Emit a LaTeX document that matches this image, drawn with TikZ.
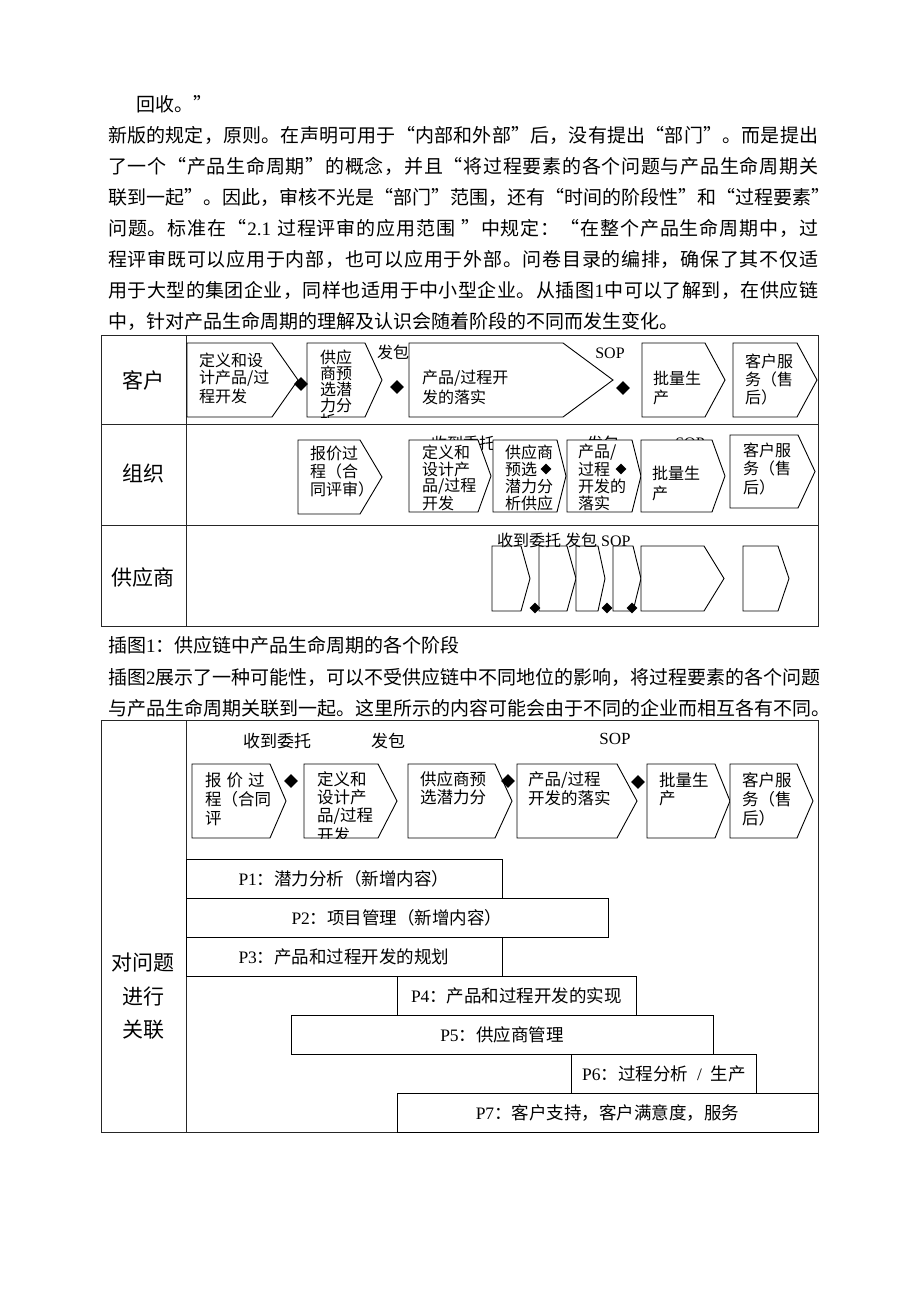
\documentclass[tikz,border=0pt]{standalone}
\usepackage{fontspec}
\setmainfont{Noto Sans CJK SC}
\newfontfamily\lat{Liberation Serif}
\usetikzlibrary{shapes.geometric}
\makeatletter
\def\sprd#1{\sprd@#1\sprd@end}
\def\sprd@end{\sprd@end}
\def\sprd@endd{\sprd@end}
\def\sprd@#1{\def\sprd@arg{#1}\ifx\sprd@arg\sprd@endd\unskip\else#1\hskip 0pt plus 1fil\expandafter\sprd@\fi}
\makeatother
\newcommand\jline[1]{\hbox to 710pt{\sprd{#1}}}
\newcommand\chevp[5]{(#1,#2) -- (#3,#2) -- (#4,{(#2+#5)/2}) -- (#3,#5) -- (#1,#5) -- cycle}
\newcommand\mylines[6]{\foreach \mytxt [count=\myi] in {#6} {\node[#1] (#2-\myi) at (#3,{#4+(\myi-1)*#5}) {\mytxt};}}
\tikzset{
 tbl/.style={draw=black!85, line width=0.9pt},
 shp/.style={draw=black, fill=white, line width=0.9pt, line join=miter},
 dia/.style={diamond, fill=black, inner sep=0pt, minimum size=14pt},
 sdia/.style={diamond, fill=black, inner sep=0pt, minimum size=11pt},
 para/.style={anchor=west, inner sep=0pt, font=\fontsize{19}{19}\selectfont},
 rowlab/.style={inner sep=0pt, font=\fontsize{21}{21}\selectfont},
 stxt/.style={anchor=west, inner sep=0pt, font=\fontsize{16}{16}\selectfont},
 stxtb/.style={anchor=west, inner sep=0pt, font=\fontsize{16.5}{16.5}\selectfont},
 milab/.style={inner sep=0pt, font=\fontsize{16}{16}\selectfont},
 milabb/.style={inner sep=0pt, font=\fontsize{17}{17}\selectfont},
 pbar/.style={draw=black, line width=0.9pt, fill=white, inner sep=0pt, minimum height=39pt, font=\fontsize{17.5}{17.5}\selectfont},
}
\begin{document}
\begin{tikzpicture}[x=1pt,y=-1pt]
\fill[white] (0,0) rectangle (920,1302);
\useasboundingbox (0,0) rectangle (920,1302);

% ---------- paragraph ----------
\node[para] (t0) at (136,104) {回收。”};
\node[para] (t1) at (108,135) {\jline{新版的规定，原则。在声明可用于“内部和外部”后，没有提出“部门”。而是提出}};
\node[para] (t2) at (108,166) {\jline{了一个“产品生命周期”的概念，并且“将过程要素的各个问题与产品生命周期关}};
\node[para] (t3) at (108,197) {\jline{联到一起”。因此，审核不光是“部门”范围，还有“时间的阶段性”和“过程要素”}};
\node[para] (t4) at (108,228) {\jline{问题。标准在“{{\lat 2.1}}\ 过程评审的应用范围\ ”中规定：“在整个产品生命周期中，过}};
\node[para] (t5) at (108,259) {\jline{程评审既可以应用于内部，也可以应用于外部。问卷目录的编排，确保了其不仅适}};
\node[para] (t6) at (108,290) {\jline{用于大型的集团企业，同样也适用于中小型企业。从插图{{\lat 1}}中可以了解到，在供应链}};
\node[para] (t7) at (108,321) {中，针对产品生命周期的理解及认识会随着阶段的不同而发生变化。};

% ---------- figure 1 table ----------
\draw[tbl] (101,335) rectangle (818,626);
\draw[tbl] (186,335) -- (186,626);
\draw[tbl] (101,424) -- (818,424);
\draw[tbl] (101,525) -- (818,525);
\node[rowlab] (r1) at (143,380) {客户};
\node[rowlab] (r2) at (143,474) {组织};
\node[rowlab] (r3) at (143,577) {供应商};

% row 1
\filldraw[shp] \chevp{187}{343}{272}{298}{417};
\mylines{stxt}{a}{199}{360}{18}{定义和设,计产品/过,程开发}
\filldraw[shp] \chevp{307}{343}{365}{382}{417};
\begin{scope}
\clip \chevp{307}{343}{365}{382}{417};
\mylines{stxt}{b}{320}{357}{16}{供应,商预,选潜,力分,析}
\end{scope}
\filldraw[shp] \chevp{409}{343}{563}{613}{417};
\mylines{stxt}{c}{422}{378}{19}{产品/过程开,发的落实}
\filldraw[shp] \chevp{642}{343}{705}{725}{417};
\mylines{stxt}{d}{653}{378}{19}{批量生,产}
\filldraw[shp] \chevp{733}{343}{797}{817}{417};
\mylines{stxt}{e}{745}{361}{18}{客户服,务（售,后）}
\node[milab] (fb1) at (393,352) {发包};
\node[milab] (sop1) at (610,353) {\lat SOP};
\node[dia] (d1) at (301,384) {};
\node[dia] (d2) at (397,387) {};
\node[dia] (d3) at (623,388) {};

% row 2
\node[milab] (sd2) at (463,443) {收到委托};
\node[milab] (fb2) at (603,443) {发包};
\node[milab] (sop2) at (690,443) {\lat SOP};
\filldraw[shp] \chevp{298}{440}{360}{382}{514};
\mylines{stxt}{f}{310}{453}{18}{报价过,程（合,同评审）}
\filldraw[shp] \chevp{409}{440}{478}{491}{512};
\mylines{stxt}{g}{422}{452}{17}{定义和,设计产,品/过程,开发}
\filldraw[shp] \chevp{493}{440}{557}{566}{512};
\begin{scope}
\clip \chevp{493}{440}{557}{566}{512};
\mylines{stxt}{h}{505}{452}{17}{供应商,预选,潜力分,析供应}
\end{scope}
\filldraw[shp] \chevp{567}{440}{632}{641}{512};
\mylines{stxt}{i}{578}{452}{17}{产品/,过程,开发的,落实}
\filldraw[shp] \chevp{641}{440}{712}{725}{512};
\mylines{stxt}{j}{652}{473}{20}{批量生,产}
\filldraw[shp] \chevp{730}{435}{798}{815}{508};
\mylines{stxt}{k}{743}{450}{18.5}{客户服,务（售,后）}
\node[sdia] (d4) at (546,469) {};
\node[sdia] (d5) at (621,469) {};

% row 3
\filldraw[shp] \chevp{492}{546}{521}{530}{611};
\filldraw[shp] \chevp{539}{546}{567}{576}{611};
\filldraw[shp] \chevp{576}{546}{598}{605}{611};
\filldraw[shp] \chevp{613}{546}{633}{641}{611};
\filldraw[shp] \chevp{641}{546}{704}{724}{611};
\filldraw[shp] \chevp{743}{546}{778}{789}{611};
\node[milab, anchor=west] (sd3) at (497,540) {收到委托\hspace{4pt}发包\hspace{4pt}{\lat SOP}};
\node[sdia] (d6) at (535,608) {};
\node[sdia] (d7) at (607,608) {};
\node[sdia] (d8) at (632,608) {};

% ---------- captions ----------
\node[para] (c1) at (108,645) {插图{\lat 1}：供应链中产品生命周期的各个阶段};
\node[para] (c2) at (108,677) {\jline{插图{{\lat 2}}展示了一种可能性，可以不受供应链中不同地位的影响，将过程要素的各个问题}};
\node[para] (c3) at (108,708) {\jline{与产品生命周期关联到一起。这里所示的内容可能会由于不同的企业而相互各有不同。}};

% ---------- figure 2 table ----------
\draw[tbl] (101,720) rectangle (818,1132);
\draw[tbl] (186,720) -- (186,1132);
\node[milabb] (sd4) at (277,741) {收到委托};
\node[milabb] (fb4) at (388,741) {发包};
\node[milabb] (sop4) at (615,739) {\lat SOP};

\filldraw[shp] \chevp{192}{764}{270}{286}{838};
\node[stxtb] (m-1) at (205,780) {报\hspace{5pt}价\hspace{5pt}过};
\node[stxtb] (m-2) at (205,799) {程（合同};
\node[stxtb] (m-3) at (205,818) {评};
\filldraw[shp] \chevp{304}{764}{378}{397}{838};
\begin{scope}
\clip \chevp{304}{764}{378}{397}{838};
\mylines{stxtb}{n}{317}{779}{18.7}{定义和,设计产,品/过程,开发}
\end{scope}
\filldraw[shp] \chevp{408}{764}{495}{512}{838};
\mylines{stxtb}{o}{420}{779}{18.5}{供应商预,选潜力分}
\filldraw[shp] \chevp{517}{764}{617}{637}{838};
\mylines{stxtb}{q}{528}{780}{18.5}{产品/过程,开发的落实}
\filldraw[shp] \chevp{647}{764}{715}{730}{838};
\mylines{stxtb}{r}{659}{780}{18.5}{批量生,产}
\filldraw[shp] \chevp{730}{764}{797}{813}{838};
\mylines{stxtb}{s}{742}{780}{19}{客户服,务（售,后）}
\node[dia] (d9) at (291,781) {};
\node[dia] (d10) at (508,781) {};
\node[dia] (d11) at (638,782) {};

\node[pbar, minimum width=316pt] (p1) at (344,878.5) {{\lat P1}：潜力分析（新增内容）};
\node[pbar, minimum width=422pt] (p2) at (397,917.5) {{\lat P2}：项目管理（新增内容）};
\node[pbar, minimum width=316pt] (p3) at (344,956.5) {{\lat P3}：产品和过程开发的规划};
\node[pbar, minimum width=239pt] (p4) at (516.5,995.5) {{\lat P4}：产品和过程开发的实现};
\node[pbar, minimum width=422pt] (p5) at (502,1034.5) {{\lat P5}：供应商管理};
\node[pbar, minimum width=185pt] (p6) at (664,1073.5) {{\lat P6}：过程分析\hspace{9pt}{\lat /}\hspace{9pt}生产};
\node[pbar, minimum width=421pt] (p7) at (607.5,1112.5) {{\lat P7}：客户支持，客户满意度，服务};

\node[rowlab] (q1) at (143,963) {对问题};
\node[rowlab] (q2) at (143,997) {进行};
\node[rowlab] (q3) at (143,1030) {关联};
\end{tikzpicture}
\end{document}
